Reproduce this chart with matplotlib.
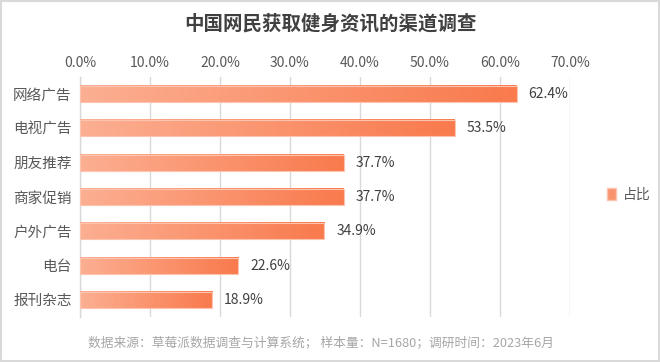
import numpy as np
import matplotlib
matplotlib.use('Agg')
import matplotlib.pyplot as plt
from matplotlib.patches import Rectangle, Patch
from matplotlib.colors import LinearSegmentedColormap

plt.rcParams['font.family'] = ['Noto Sans CJK SC', 'DejaVu Sans']

# data
categories = ['网络广告', '电视广告', '朋友推荐', '商家促销', '户外广告', '电台', '报刊杂志']
values = [62.4, 53.5, 37.7, 37.7, 34.9, 22.6, 18.9]
xticks = [0, 10, 20, 30, 40, 50, 60, 70]

title = '中国网民获取健身资讯的渠道调查'
footer = '数据来源：草莓派数据调查与计算系统； 样本量：N=1680；调研时间：2023年6月'

text_c = '#595959'
grid_c = '#D9D9D9'
cmap = LinearSegmentedColormap.from_list('g', ['#FCAF92', '#F97A4D'])

fig = plt.figure(figsize=(6.6, 3.62), dpi=100)
ax = fig.add_axes([80 / 660, 1 - 317 / 362, 490 / 660, 240 / 362])

n = len(categories)
ypos = np.arange(n)
h = 0.47
grad = np.linspace(0, 1, 256).reshape(1, -1)
for y, v in zip(ypos, values):
    ax.imshow(grad, cmap=cmap, aspect='auto', extent=(0, v, y + h / 2, y - h / 2),
              zorder=3, interpolation='bilinear')
    ax.add_patch(Rectangle((0, y - h / 2), v, h, fill=False, edgecolor='#FCC3AE',
                           linewidth=0.8, zorder=4))
    ax.text(v + 1.7, y, f'{v:.1f}%', va='center', ha='left', fontsize=10,
            color='#404040', zorder=5)

ax.set_xlim(0, 70)
ax.set_ylim(n - 0.5, -0.5)
ax.set_yticks(ypos)
ax.set_yticklabels(categories, fontsize=10.5, color=text_c)
ax.set_xticks(xticks)
ax.set_xticklabels([f'{t:.1f}%' for t in xticks], fontsize=10, color=text_c)
ax.xaxis.tick_top()
ax.tick_params(axis='both', length=0)
ax.tick_params(axis='x', pad=5)
ax.tick_params(axis='y', pad=6)
ax.grid(axis='x', color=grid_c, linewidth=1, zorder=0)
ax.set_axisbelow(True)
for s in ['top', 'right', 'bottom']:
    ax.spines[s].set_visible(False)
ax.spines['left'].set_color(grid_c)
ax.spines['left'].set_linewidth(1)

fig.text(0.5, 1 - 24 / 362, title, ha='center', va='center', fontsize=14,
         fontweight='bold', color='#404040')
fig.text(88 / 660, 1 - 343 / 362, footer, ha='left', va='center', fontsize=9.2,
         color='#A6A6A6')

handle = Patch(facecolor='#F9936D', edgecolor='#FCC3AE')
fig.legend([handle], ['占比'], loc='center left', bbox_to_anchor=(594 / 660, 1 - 195 / 362),
           frameon=False, fontsize=10, handlelength=0.7, handleheight=0.9,
           handletextpad=0.5, labelcolor=text_c)

fig.patches.append(Rectangle((0.001, 0.002), 0.997, 0.995, transform=fig.transFigure,
                             fill=False, edgecolor='#D9D9D9', linewidth=1.5))

fig.savefig('out.png', dpi=100)
